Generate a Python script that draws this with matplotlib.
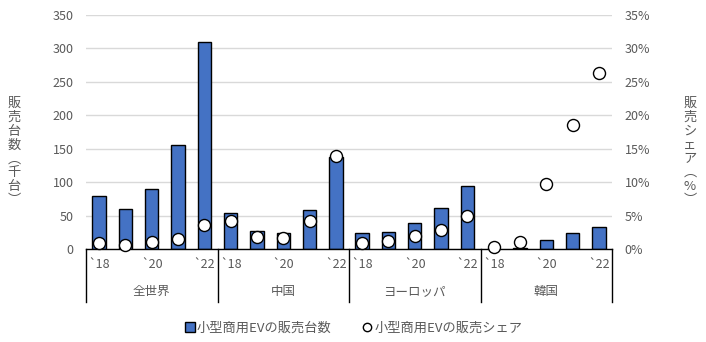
import numpy as np
import matplotlib
matplotlib.use("Agg")
import matplotlib.pyplot as plt
from matplotlib.transforms import blended_transform_factory
from matplotlib.lines import Line2D

plt.rcParams['font.family'] = ['Noto Sans CJK JP', 'DejaVu Sans']

# Data
regions = ["全世界", "中国", "ヨーロッパ", "韓国"]
year_labels = ["`18", "", "`20", "", "`22"]
sales = [79, 60, 90, 155, 310,
         54, 27, 24, 58, 137,
         24, 25, 39, 61, 94,
         0, 1.5, 14, 24, 33]
share = [0.9, 0.6, 1.1, 1.5, 3.6,
         4.2, 1.8, 1.7, 4.2, 13.9,
         0.9, 1.2, 1.9, 2.9, 4.9,
         0.3, 1.0, 9.7, 18.5, 26.3]

TEXT = "#595959"
BLUE = "#4472C4"

fig = plt.figure(figsize=(7.06, 3.42), dpi=100)
ax = fig.add_axes([86 / 706, 1 - 249 / 342, 526 / 706, 234 / 342])

x = np.arange(len(sales))
ax.bar(x, sales, width=0.51, color=BLUE, edgecolor="black", linewidth=1.0, zorder=2)
ax.set_xlim(-0.5, len(sales) - 0.5)
ax.set_ylim(0, 350)
ax.set_yticks(range(0, 351, 50))
ax.yaxis.grid(True, color="#d9d9d9", linewidth=1.0, zorder=0)
ax.set_axisbelow(True)
ax.tick_params(axis="y", length=0, labelsize=9, labelcolor=TEXT, pad=9)
ax.set_xticks([])
for side in ["left", "right", "top"]:
    ax.spines[side].set_visible(False)
ax.spines["bottom"].set_color("black")
ax.spines["bottom"].set_linewidth(1.0)
ax.spines["bottom"].set_zorder(3)

# share on secondary axis
ax2 = ax.twinx()
ax2.scatter(x, np.array(share) / 100, s=75, facecolor="white", edgecolor="black",
            linewidth=1.0, zorder=4, clip_on=False)
ax2.set_ylim(0, 0.35)
ax2.set_yticks(np.arange(0, 0.351, 0.05))
ax2.set_yticklabels([f"{int(round(v * 100))}%" for v in np.arange(0, 0.351, 0.05)])
ax2.tick_params(axis="y", length=0, labelsize=9, labelcolor=TEXT, pad=9)
for side in ["left", "right", "top", "bottom"]:
    ax2.spines[side].set_visible(False)

# category axis: year labels, region labels and separators
trans = blended_transform_factory(ax.transData, ax.transAxes)
for i in range(len(sales)):
    lab = year_labels[i % 5]
    if lab:
        ax.text(i, -0.065, lab, transform=trans, ha="center", va="center",
                fontsize=9, color=TEXT)
for g, name in enumerate(regions):
    ax.text(g * 5 + 2, -0.18, name, transform=trans, ha="center", va="center",
            fontsize=9, color=TEXT)
for b in range(len(regions) + 1):
    ax.add_line(Line2D([b * 5 - 0.5, b * 5 - 0.5], [0, -0.226], transform=trans,
                       color="black", linewidth=1.0, clip_on=False))

# vertical axis titles
ax.text(-0.137, 0.415, "\n".join("販売台数︵千台︶"), transform=ax.transAxes,
        ha="center", va="center", fontsize=9.5, color=TEXT, linespacing=1.08)
ax2.text(1.148, 0.415, "\n".join("販売シェア︵%︶"), transform=ax.transAxes,
         ha="center", va="center", fontsize=9.5, color=TEXT, linespacing=1.08)

# legend
handles = [
    Line2D([], [], marker="s", linestyle="none", markersize=6.5,
           markerfacecolor=BLUE, markeredgecolor="black", markeredgewidth=1.0),
    Line2D([], [], marker="o", linestyle="none", markersize=6,
           markerfacecolor="white", markeredgecolor="black", markeredgewidth=1.0),
]
fig.legend(handles, ["小型商用EVの販売台数", "小型商用EVの販売シェア"],
           loc="center", bbox_to_anchor=(0.5, 1 - 328 / 342), ncol=2, frameon=False,
           fontsize=9.5, labelcolor=TEXT, handletextpad=0.05, columnspacing=2.3,
           handlelength=0.9)

fig.savefig("out.png", dpi=100)
